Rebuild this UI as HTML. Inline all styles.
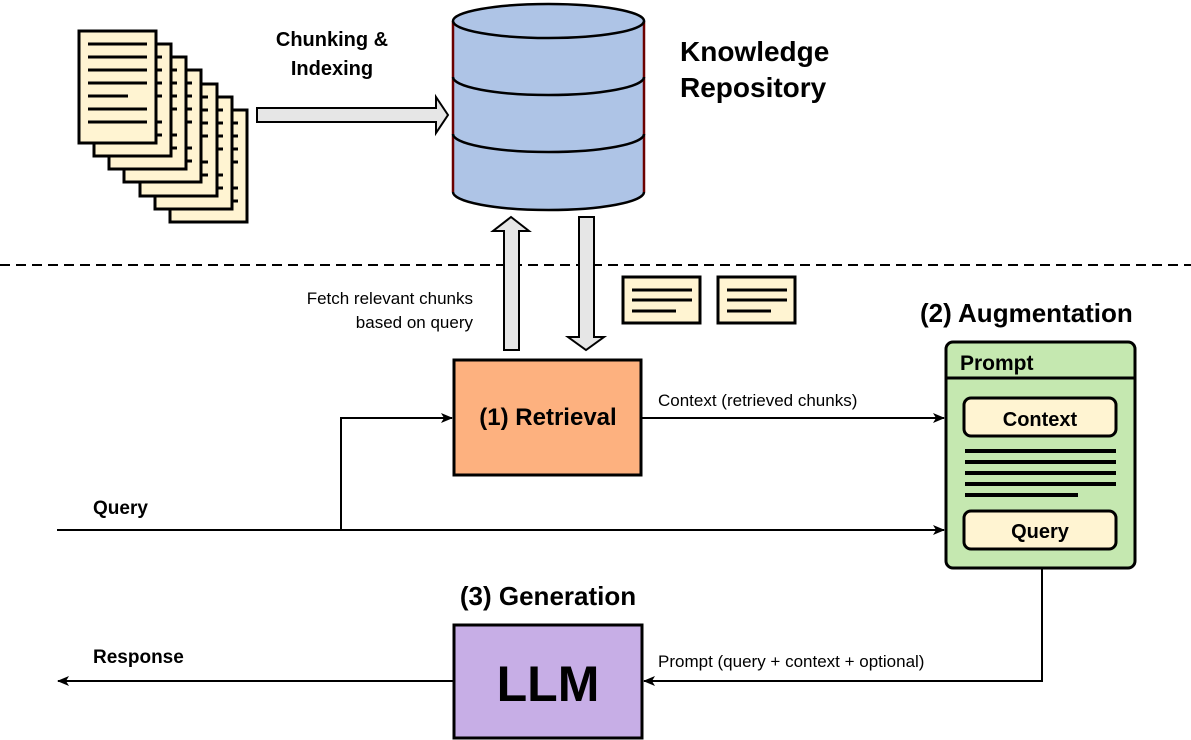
<!DOCTYPE html>
<html><head><meta charset="utf-8"><style>
html,body{margin:0;padding:0;background:#fff}
svg{display:block}
text{font-family:"Liberation Sans",Arial,sans-serif}
</style></head><body>
<svg width="1191" height="740" viewBox="0 0 1191 740" xmlns="http://www.w3.org/2000/svg">
<defs>
<marker id="ah" markerWidth="12" markerHeight="10" refX="11" refY="5" orient="auto" markerUnits="userSpaceOnUse">
<path d="M0,0 L12,5 L0,10 L3,5 Z" fill="#000"/>
</marker>
<g id="pg">
<rect x="0" y="0" width="77" height="112" fill="#fff4d2" stroke="#000" stroke-width="3"/>
<g stroke="#000" stroke-width="3">
<line x1="9" y1="13" x2="68" y2="13"/><line x1="9" y1="26" x2="68" y2="26"/>
<line x1="9" y1="39" x2="68" y2="39"/><line x1="9" y1="52" x2="68" y2="52"/>
<line x1="9" y1="65" x2="49" y2="65"/><line x1="9" y1="78" x2="68" y2="78"/>
<line x1="9" y1="91" x2="68" y2="91"/></g>
</g>
</defs>
<!-- document stack -->
<use href="#pg" x="170" y="110"/>
<use href="#pg" x="155" y="97"/>
<use href="#pg" x="140" y="84"/>
<use href="#pg" x="124" y="70"/>
<use href="#pg" x="109" y="57"/>
<use href="#pg" x="94" y="44"/>
<use href="#pg" x="79" y="31"/>
<!-- chunking arrow -->
<path d="M257,108 L436,108 L436,97 L448,115 L436,133 L436,122 L257,122 Z" fill="#e6e6e6" stroke="#000" stroke-width="2"/>
<text x="332" y="46" font-size="20" font-weight="bold" text-anchor="middle">Chunking &amp;</text>
<text x="332" y="75" font-size="20" font-weight="bold" text-anchor="middle">Indexing</text>
<!-- cylinder -->
<path d="M453,21 L453,192 A95.5,18 0 0 0 644,192 L644,21 Z" fill="#aec4e6"/>
<line x1="453" y1="21" x2="453" y2="192" stroke="#6b0000" stroke-width="2.5"/>
<line x1="644" y1="21" x2="644" y2="192" stroke="#6b0000" stroke-width="2.5"/>
<path d="M453,192 A95.5,18 0 0 0 644,192" fill="none" stroke="#000" stroke-width="2.5"/>
<path d="M453,77 A95.5,18 0 0 0 644,77" fill="none" stroke="#000" stroke-width="2.5"/>
<path d="M453,134 A95.5,18 0 0 0 644,134" fill="none" stroke="#000" stroke-width="2.5"/>
<ellipse cx="548.5" cy="21" rx="95.5" ry="17" fill="#aec4e6" stroke="#000" stroke-width="2.5"/>
<text x="680" y="61" font-size="28" font-weight="bold">Knowledge</text>
<text x="680" y="97" font-size="28" font-weight="bold">Repository</text>
<!-- dashed line -->
<line x1="0" y1="265" x2="1191" y2="265" stroke="#000" stroke-width="2" stroke-dasharray="10,6"/>
<!-- up/down arrows -->
<path d="M504,350 L504,231 L493,231 L511,217 L529,231 L519,231 L519,350 Z" fill="#e6e6e6" stroke="#000" stroke-width="2"/>
<path d="M579,217 L594,217 L594,337 L604,337 L586,350 L568,337 L579,337 Z" fill="#e6e6e6" stroke="#000" stroke-width="2"/>
<text x="473" y="304" font-size="17" text-anchor="end">Fetch relevant chunks</text>
<text x="473" y="328" font-size="17" text-anchor="end">based on query</text>
<!-- chunk icons -->
<g stroke="#000" stroke-width="3">
<rect x="623" y="277" width="77" height="46" fill="#fff4d2"/>
<line x1="632" y1="290" x2="692" y2="290"/><line x1="632" y1="300" x2="692" y2="300"/><line x1="632" y1="311" x2="676" y2="311"/>
<rect x="718" y="277" width="77" height="46" fill="#fff4d2"/>
<line x1="727" y1="290" x2="787" y2="290"/><line x1="727" y1="300" x2="787" y2="300"/><line x1="727" y1="311" x2="771" y2="311"/>
</g>
<!-- retrieval -->
<rect x="454" y="360" width="187" height="115" fill="#fdb17f" stroke="#000" stroke-width="3"/>
<text x="548" y="425" font-size="24" font-weight="bold" text-anchor="middle">(1) Retrieval</text>
<line x1="641" y1="418" x2="944" y2="418" stroke="#000" stroke-width="2" marker-end="url(#ah)"/>
<text x="658" y="406" font-size="17">Context (retrieved chunks)</text>
<!-- query -->
<line x1="57" y1="530" x2="944" y2="530" stroke="#000" stroke-width="2" marker-end="url(#ah)"/>
<polyline points="341,530 341,418 452,418" fill="none" stroke="#000" stroke-width="2" marker-end="url(#ah)"/>
<text x="93" y="514" font-size="19" font-weight="bold">Query</text>
<!-- prompt box -->
<text x="920" y="322" font-size="26" font-weight="bold">(2) Augmentation</text>
<rect x="946" y="342" width="189" height="226" rx="7" fill="#c5e8b0" stroke="#000" stroke-width="3"/>
<line x1="946" y1="378" x2="1135" y2="378" stroke="#000" stroke-width="3"/>
<text x="960" y="370" font-size="21" font-weight="bold">Prompt</text>
<rect x="964" y="398" width="152" height="38" rx="7" fill="#fff4d2" stroke="#000" stroke-width="3"/>
<text x="1040" y="426" font-size="20" font-weight="bold" text-anchor="middle">Context</text>
<g stroke="#000" stroke-width="4">
<line x1="965" y1="451" x2="1116" y2="451"/><line x1="965" y1="462" x2="1116" y2="462"/>
<line x1="965" y1="473" x2="1116" y2="473"/><line x1="965" y1="484" x2="1116" y2="484"/>
<line x1="965" y1="495" x2="1078" y2="495"/></g>
<rect x="964" y="511" width="152" height="38" rx="7" fill="#fff4d2" stroke="#000" stroke-width="3"/>
<text x="1040" y="538" font-size="20" font-weight="bold" text-anchor="middle">Query</text>
<!-- generation -->
<polyline points="1042,568 1042,681 644,681" fill="none" stroke="#000" stroke-width="2" marker-end="url(#ah)"/>
<text x="658" y="667" font-size="17">Prompt (query + context + optional)</text>
<text x="548" y="605" font-size="26" font-weight="bold" text-anchor="middle">(3) Generation</text>
<rect x="454" y="625" width="188" height="113" fill="#c7aee6" stroke="#000" stroke-width="3"/>
<text x="548" y="701" font-size="50" font-weight="bold" text-anchor="middle">LLM</text>
<line x1="454" y1="681" x2="58" y2="681" stroke="#000" stroke-width="2" marker-end="url(#ah)"/>
<text x="93" y="663" font-size="19" font-weight="bold">Response</text>
</svg>
</body></html>
